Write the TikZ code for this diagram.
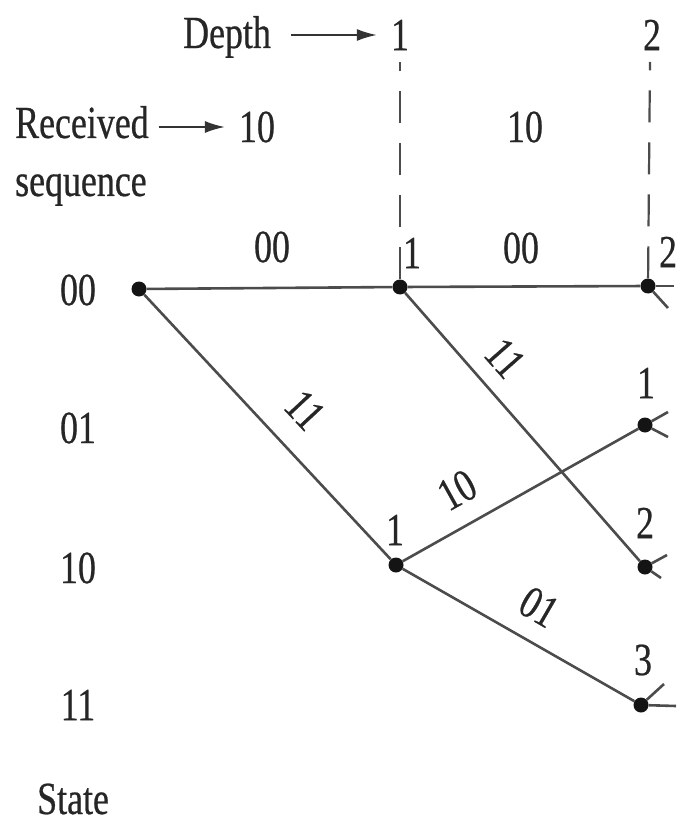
\documentclass[tikz,border=0pt]{standalone}
\usepackage{fontspec}
\setmainfont{Liberation Serif}[FakeStretch=0.78, FakeBold=0.5]
\usetikzlibrary{arrows.meta}
\begin{document}
\begin{tikzpicture}[x=1pt,y=-1pt,
  txt/.style={inner sep=0pt, text=black!85, font=\fontsize{46}{50}\selectfont},
  dot/.style={circle, fill=black!92, inner sep=0pt, minimum size=15pt},
  edge/.style={line width=2.6pt, draw=black!70},
  vdash/.style={line width=2.2pt, draw=black!70, dash pattern=on 32pt off 20pt},
  pointer/.style={line width=1.8pt, draw=black!80, -{Latex[length=20pt,width=12pt]}},
]
\useasboundingbox (0,0) rectangle (679,826);
\clip (0,0) rectangle (679,826);
\fill[white] (0,0) rectangle (679,826);

% trellis nodes
\node[dot] (a) at (139,289) {};
\node[dot] (b) at (400,287) {};
\node[dot] (d) at (648,286) {};
\node[dot] (e) at (645,425) {};
\node[dot] (c) at (396,565) {};
\node[dot] (f) at (645,567) {};
\node[dot] (g) at (641,705) {};

% free ends
\coordinate (top1) at (400,62);
\coordinate (top2) at (650,62);
\coordinate (dh) at (674,286);
\coordinate (ds) at (668,308);
\coordinate (eu) at (668,412);
\coordinate (ed) at (668,437);
\coordinate (fu) at (667,555);
\coordinate (fd) at (661,578);
\coordinate (gu) at (664,684);
\coordinate (gh) at (676,706);

% branches
\draw[edge] (a) -- (b);
\draw[edge] (b) -- (d);
\draw[edge] (a) -- (c);
\draw[edge] (b) -- (f);
\draw[edge] (c) -- (e);
\draw[edge] (c) -- (g);
\draw[edge] (d) -- (dh);
\draw[edge] (d) -- (ds);
\draw[edge] (e) -- (eu);
\draw[edge] (e) -- (ed);
\draw[edge] (f) -- (fu);
\draw[edge] (f) -- (fd);
\draw[edge] (g) -- (gu);
\draw[edge] (g) -- (gh);

% depth dashed lines
\draw[vdash] (b) -- (top1);
\draw[vdash] (d) -- (top2);

% header
\node[txt, anchor=base west] (depth) at (183,48) {Depth};
\node[txt] (d1) at (400,35) {1};
\node[txt] (d2) at (652,35) {2};
\draw[pointer] ([xshift=20pt]depth.east |- d1.center) -- ([xshift=-14pt]d1.west);

\node[txt, anchor=base west] (rec) at (15,138) {Received};
\node[txt, anchor=base west] (seq) at (15,196) {sequence};
\node[txt] (r1) at (257,127) {10};
\node[txt] (r2) at (525,127) {10};
\draw[pointer] ([xshift=10pt]rec.east |- r1.center) -- ([xshift=-14pt]r1.west);

% states
\node[txt] (s00) at (78,290) {00};
\node[txt] (s01) at (78,428) {01};
\node[txt] (s10) at (78,568) {10};
\node[txt] (s11) at (78,705) {11};
\node[txt, anchor=base west] (state) at (37,814) {State};

% branch labels
\node[txt] (l1) at (272,247) {00};
\node[txt] (l2) at (521,248) {00};
\node[txt, rotate=-47] (l3) at (305,410) {11};
\node[txt, rotate=-48.6] (l4) at (505,358) {11};
\node[txt, rotate=29] (l5) at (457,490) {10};
\node[txt, rotate=-30] (l6) at (539,607) {01};

% metrics
\node[txt] (n1) at (412,253) {1};
\node[txt] (n2) at (668,252) {2};
\node[txt] (n3) at (395,530) {1};
\node[txt] (n4) at (646,383) {1};
\node[txt] (n5) at (645,523) {2};
\node[txt] (n6) at (643,660) {3};
\end{tikzpicture}
\end{document}
